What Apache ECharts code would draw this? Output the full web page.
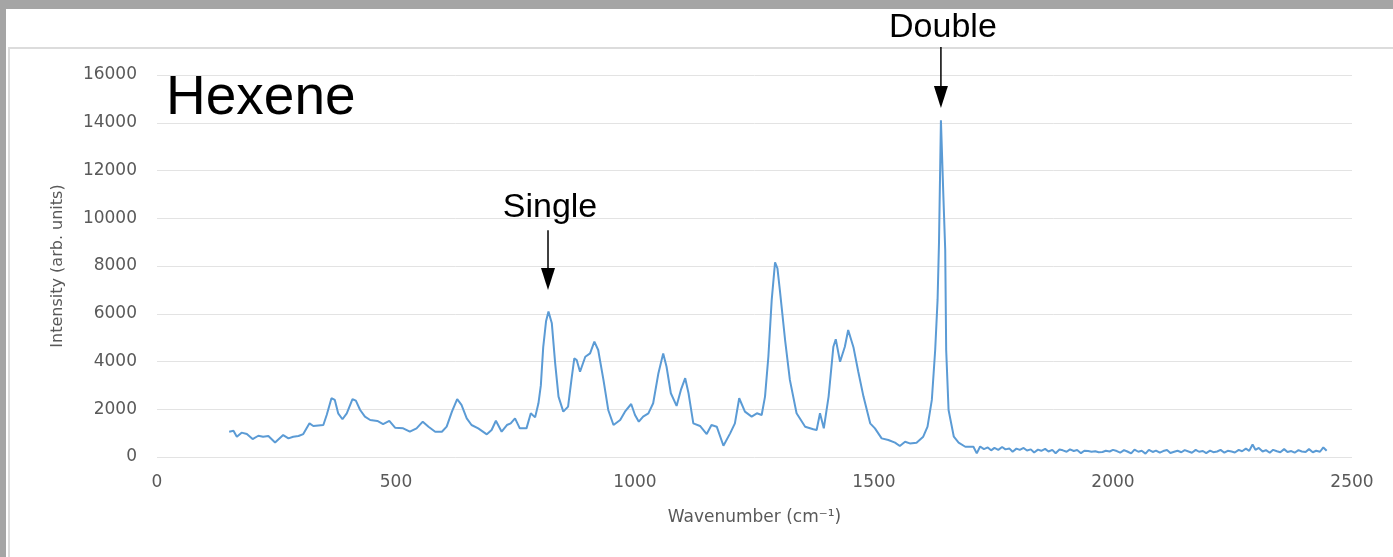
<!DOCTYPE html>
<html>
<head>
<meta charset="utf-8">
<script src="https://cdn.jsdelivr.net/npm/echarts@6/dist/echarts.min.js"></script>
<style>
html,body{margin:0;padding:0;background:#fff;}
#chart{width:1393px;height:557px;}
</style>
</head>
<body>
<div id="chart"></div>
<script>
// Wavenumber (cm-1) and intensity (arb. units)
const wavenumbers = [
151,160,167,177,188,200,212,222,233,247,264,275,285,296,306,319,327,348,355,365,372,379,388,397,409,416,425,435,446,461,473,486,498,515,529,543,556,568,582,596,606,617,628,637,648,658,672,690,700,709,721,732,740,749,759,773,782,791,798,803,808,814,819,826,833,840,850,860,867,873,878,885,896,906,915,923,934,944,955,969,979,992,1000,1008,1017,1028,1038,1049,1059,1066,1075,1087,1096,1105,1112,1122,1136,1150,1160,1171,1185,1199,1209,1218,1230,1244,1255,1265,1272,1279,1286,1293,1298,1303,1314,1324,1338,1356,1373,1380,1387,1395,1405,1415,1420,1429,1439,1446,1457,1467,1478,1492,1502,1516,1530,1544,1554,1565,1575,1589,1603,1612,1621,1628,1633,1636,1640,1645,1649,1651,1656,1667,1677,1691,1708,1715,
1722,1730,1738,1745,1752,1760,1768,1775,1783,1790,1798,1805,1813,1820,1828,1835,1843,1850,1858,1865,1873,1880,1888,1895,1903,1910,1918,1925,1933,1940,1948,1955,1963,1970,1978,1985,1993,2000,2008,2015,2023,2030,2038,2045,2053,2060,2068,2075,2083,2090,2098,2105,2113,2120,2128,2135,2143,2150,2158,2165,2173,2180,2188,2195,2203,2210,2218,2225,2233,2240,2248,2255,2263,2270,2278,2285,2292,2298,2305,2313,2320,2328,2335,2343,2350,2358,2365,2373,2380,2388,2395,2403,2410,2418,2425,2433,2440,2447
];
const intensities = [
1060,1100,850,1020,960,750,890,850,880,610,920,780,850,880,960,1410,1300,1340,1760,2460,2390,1830,1580,1830,2420,2360,1970,1690,1550,1510,1380,1510,1230,1200,1060,1200,1480,1270,1060,1060,1270,1900,2420,2180,1620,1340,1200,950,1130,1520,1060,1340,1410,1620,1200,1200,1830,1660,2250,3000,4600,5700,6090,5600,3920,2530,1900,2110,3230,4130,4060,3570,4200,4340,4830,4480,3230,1970,1340,1550,1900,2220,1760,1480,1690,1830,2250,3510,4340,3780,2670,2140,2810,3300,2670,1410,1300,960,1340,1270,470,990,1410,2460,1900,1690,1830,1760,2530,4200,6580,8150,7900,7000,4900,3230,1830,1270,1160,1130,1830,1200,2530,4620,4930,3990,4620,5320,4600,3580,2530,1410,1200,780,710,600,460,640,570,600,850,1270,2390,4480,6580,9000,14100,11000,8670,4480,1970,850,600,430,430,150,
440,330,400,280,380,300,420,320,360,220,350,300,380,270,320,190,310,260,340,230,300,160,310,280,220,320,250,290,160,260,250,220,240,200,210,260,230,300,250,180,290,230,150,310,220,260,140,300,210,270,180,250,290,170,220,260,200,290,230,180,300,220,250,160,270,200,230,300,180,260,230,190,300,240,350,260,520,300,380,230,290,180,300,240,200,330,210,250,180,290,230,210,330,200,260,220,400,260
];
const xTicks = [0, 500, 1000, 1500, 2000, 2500];
const yTicks = [0, 2000, 4000, 6000, 8000, 10000, 12000, 14000, 16000];
const annotations = [
  {label: 'Single', wn: 818, tip: 7000, tail: 9500, textVal: 10450},
  {label: 'Double', wn: 1640, tip: 14620, tail: 17170, textVal: 18000}
];

const points = wavenumbers.map((w, i) => [w, intensities[i]]);
const chart = echarts.init(document.getElementById('chart'), null, {renderer: 'canvas'});
const tickFont = {color: '#595959', fontFamily: 'DejaVu Sans', fontSize: 17, formatter: v => String(v)};

chart.setOption({
  animation: false,
  backgroundColor: '#ffffff',
  grid: {left: 157, right: 41, top: 75, bottom: 100},
  xAxis: {
    type: 'value', min: xTicks[0], max: xTicks[xTicks.length - 1], interval: 500,
    axisLine: {show: false}, axisTick: {show: false}, splitLine: {show: false},
    axisLabel: Object.assign({margin: 17}, tickFont),
    name: 'Wavenumber (cm\u207B\u00B9)', nameLocation: 'middle', nameGap: 52,
    nameTextStyle: {color: '#595959', fontFamily: 'DejaVu Sans', fontSize: 17}
  },
  yAxis: {
    type: 'value', min: yTicks[0], max: yTicks[yTicks.length - 1], interval: 2000,
    axisLine: {show: false}, axisTick: {show: false},
    splitLine: {lineStyle: {color: '#e3e3e3', width: 1}},
    axisLabel: Object.assign({margin: 20}, tickFont),
    name: 'Intensity (arb. units)', nameLocation: 'middle', nameGap: 91, nameRotate: 90,
    nameTextStyle: {color: '#595959', fontFamily: 'DejaVu Sans', fontSize: 16}
  },
  series: [{
    type: 'line', data: points, showSymbol: false, smooth: false,
    lineStyle: {color: '#5B9BD5', width: 2}, itemStyle: {color: '#5B9BD5'}
  }]
});

const g = [
  {type: 'rect', shape: {x: 0, y: 0, width: 1393, height: 9}, style: {fill: '#a5a5a5'}, silent: true},
  {type: 'rect', shape: {x: 0, y: 0, width: 6, height: 557}, style: {fill: '#a5a5a5'}, silent: true},
  {type: 'line', shape: {x1: 8, y1: 48, x2: 1393, y2: 48}, style: {stroke: '#dcdcdc', lineWidth: 2}, silent: true},
  {type: 'line', shape: {x1: 9, y1: 48, x2: 9, y2: 557}, style: {stroke: '#dcdcdc', lineWidth: 2}, silent: true},
  {type: 'text', x: 166, y: 71, style: {text: 'Hexene', fill: '#000', font: '55px "Liberation Sans"', textVerticalAlign: 'top'}, silent: true}
];
annotations.forEach(a => {
  const tip = chart.convertToPixel({gridIndex: 0}, [a.wn, a.tip]);
  const tail = chart.convertToPixel({gridIndex: 0}, [a.wn, a.tail]);
  const tx = chart.convertToPixel({gridIndex: 0}, [a.wn, a.textVal]);
  const x = tip[0];
  g.push({type: 'line', shape: {x1: x, y1: tail[1], x2: x, y2: tip[1] - 18}, style: {stroke: '#000', lineWidth: 1.5}, silent: true});
  g.push({type: 'polygon', shape: {points: [[x - 7, tip[1] - 22], [x + 7, tip[1] - 22], [x, tip[1]]]}, style: {fill: '#000'}, silent: true});
  g.push({type: 'text', x: x + 2, y: tx[1], style: {text: a.label, fill: '#000', font: '34px "Liberation Sans"', textAlign: 'center', textVerticalAlign: 'middle'}, silent: true});
});
chart.setOption({graphic: g});
</script>
</body>
</html>
